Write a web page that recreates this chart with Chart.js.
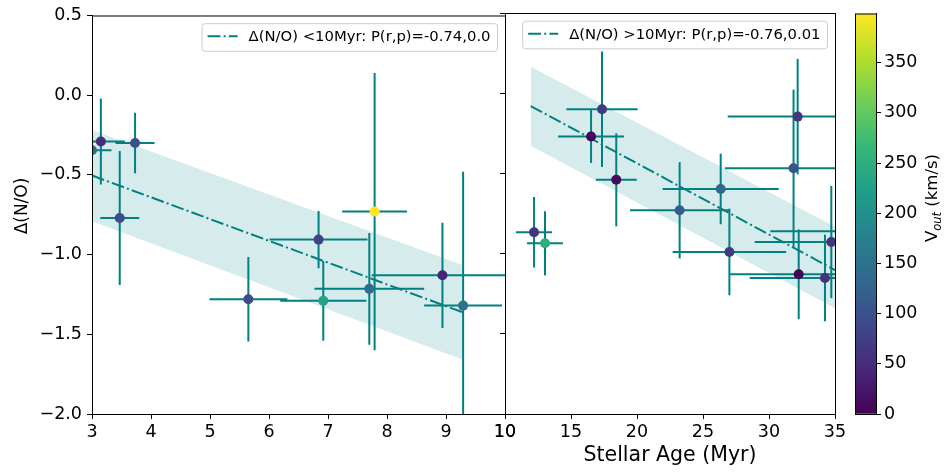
<!DOCTYPE html>
<html>
<head>
<meta charset="utf-8">
<script src="https://cdn.jsdelivr.net/npm/chart.js@4.4.0/dist/chart.umd.min.js"></script>
<style>
    html, body { margin: 0; padding: 0; background: #fff; }
    #wrap { position: relative; width: 947px; height: 472px; overflow: hidden; }
    canvas { position: absolute; top: 0; }
    #young { left: 0; }
    #old { left: 480px; }
    #cbar { left: 840px; }
</style>
</head>
<body>
<div id="wrap">
    <canvas id="young" width="540" height="472"></canvas>
    <canvas id="old" width="380" height="472"></canvas>
    <canvas id="cbar" width="107" height="472"></canvas>
</div>
<script>
// ==========================================
// Data
// ==========================================

// stellar age < 10 Myr
const youngAge    = [3.0, 3.15, 3.73, 3.47, 7.79, 6.84, 5.65, 6.92, 7.70, 8.94, 9.29];
const youngAgeErr = [0.33, 0.41, 0.33, 0.33, 0.55, 0.83, 0.66, 0.73, 0.93, 1.2, 0.66];
const youngDNO    = [-0.345, -0.29, -0.30, -0.77, -0.73, -0.906, -1.28, -1.29, -1.215, -1.13, -1.32];
const youngDNOErr = [0.41, 0.27, 0.19, 0.42, 0.87, 0.18, 0.265, 0.25, 0.35, 0.33, 0.84];
const youngVout   = [145, 50, 100, 95, 399, 80, 90, 230, 140, 40, 148];

// stellar age > 10 Myr
const oldAge    = [17.35, 16.52, 18.43, 26.34, 23.23, 32.17, 31.86, 12.2, 13.03, 27.0, 32.25, 34.24, 34.72, 38.0];
const oldAgeErr = [2.7, 2.5, 1.55, 4.4, 3.76, 5.3, 5.2, 1.37, 1.36, 4.3, 5.2, 5.7, 5.8, 7.9];
const oldDNO    = [-0.10, -0.27, -0.54, -0.597, -0.73, -0.146, -0.468, -0.867, -0.936, -0.99, -1.129, -1.152, -0.928, -0.86];
const oldDNOErr = [0.36, 0.165, 0.29, 0.22, 0.30, 0.36, 0.49, 0.22, 0.20, 0.27, 0.28, 0.27, 0.35, 0.3];
const oldVout   = [70, 5, 8, 135, 115, 65, 105, 62, 250, 65, 3, 58, 62, 100];

// linear fits and their bands
const fitYoungX     = [3.0, 9.29];
const fitYoungY     = [-0.504, -1.363];
const bandYoungUp   = [-0.219, -1.067];
const bandYoungLow  = [-0.79, -1.66];

const fitOldX     = [11.95, 35.5];
const fitOldY     = [-0.08, -1.125];
const bandOldUp   = [0.165, -0.854];
const bandOldLow  = [-0.327, -1.363];

const legendYoung = "Δ(N/O) <10Myr: P(r,p)=-0.74,0.0";
const legendOld   = "Δ(N/O) >10Myr: P(r,p)=-0.76,0.01";

// colour scale
const voutMin = 0;
const voutMax = 399;
const voutTicks = [0, 50, 100, 150, 200, 250, 300, 350];

const viridisStops = ["#440154", "#482878", "#3e4989", "#31688e", "#26828e",
                      "#1f9e89", "#35b779", "#6ece58", "#b5de2b", "#fde725"];

const TEAL = "#008080";
const TICK_SIZE = 17.5;

// ==========================================
// Helpers
// ==========================================

function hexToRgb(h) {
    return [parseInt(h.slice(1, 3), 16), parseInt(h.slice(3, 5), 16), parseInt(h.slice(5, 7), 16)];
}

function viridis(v) {
    let t = (v - voutMin) / (voutMax - voutMin);
    t = Math.max(0, Math.min(1, t));
    const pos = t * (viridisStops.length - 1);
    const i = Math.min(Math.floor(pos), viridisStops.length - 2);
    const f = pos - i;
    const a = hexToRgb(viridisStops[i]);
    const b = hexToRgb(viridisStops[i + 1]);
    const c = a.map((ai, k) => Math.round(ai + (b[k] - ai) * f));
    return `rgb(${c[0]},${c[1]},${c[2]})`;
}

function minusSign(v) {
    return v.toFixed(1).replace("-", "\u2212");
}

function panelDatasets(age, ageErr, dno, dnoErr, vout, fitX, fitY, bandUp, bandLow) {

    const datasets = [];

    datasets.push({
        type: "scatter",
        data: age.map((a, i) => ({ x: a, y: dno[i] })),
        backgroundColor: vout.map(viridis),
        borderWidth: 0,
        pointRadius: 5,
        pointHoverRadius: 5,
        order: 0,
        clip: 0
    });

    const err = {
        type: "line",
        borderColor: TEAL,
        borderWidth: 2,
        pointRadius: 0,
        fill: false,
        order: 1,
        clip: 0
    };

    age.forEach((a, i) => {
        datasets.push({ ...err, data: [{ x: a - ageErr[i], y: dno[i] }, { x: a + ageErr[i], y: dno[i] }] });
        datasets.push({ ...err, data: [{ x: a, y: dno[i] - dnoErr[i] }, { x: a, y: dno[i] + dnoErr[i] }] });
    });

    datasets.push({
        type: "line",
        data: fitX.map((x, i) => ({ x: x, y: fitY[i] })),
        borderColor: TEAL,
        borderWidth: 2,
        borderDash: [12.8, 3.2, 2, 3.2],
        pointRadius: 0,
        fill: false,
        order: 2,
        clip: 0
    });

    datasets.push({
        type: "line",
        data: fitX.map((x, i) => ({ x: x, y: bandUp[i] })),
        borderWidth: 0,
        borderColor: "rgba(0,0,0,0)",
        backgroundColor: "rgba(0,128,128,0.16)",
        pointRadius: 0,
        fill: "+1",
        order: 3,
        clip: 0
    });

    datasets.push({
        type: "line",
        data: fitX.map((x, i) => ({ x: x, y: bandLow[i] })),
        borderWidth: 0,
        borderColor: "rgba(0,0,0,0)",
        pointRadius: 0,
        fill: false,
        order: 3,
        clip: 0
    });

    return datasets;
}

function tickGrid() {
    return {
        display: true,
        drawOnChartArea: false,
        drawTicks: true,
        tickLength: 5,
        color: "#000",
        tickColor: "#000",
        tickWidth: 1
    };
}

// ==========================================
// Plugins
// ==========================================

const frame = {
    id: "frame",
    afterDraw(chart) {
        const { ctx, chartArea: a } = chart;
        ctx.save();
        ctx.strokeStyle = "#000";
        ctx.lineWidth = 1;
        ctx.strokeRect(a.left + 0.5, a.top + 0.5, a.right - a.left, a.bottom - a.top);
        ctx.restore();
    }
};

function legendBox(text) {
    return {
        id: "legendBox",
        afterDraw(chart) {
            const { ctx, chartArea: a } = chart;
            ctx.save();
            ctx.font = "14.8px 'DejaVu Sans'";
            const w = ctx.measureText(text).width;
            const boxW = 6 + 30 + 11 + w + 6.5;
            const boxH = 27.6;
            const right = a.right - 8;
            const top = a.top + 7.7;
            const left = right - boxW;

            ctx.beginPath();
            ctx.roundRect(left + 0.5, top + 0.5, boxW, boxH, 3);
            ctx.fillStyle = "rgba(255,255,255,0.8)";
            ctx.fill();
            ctx.strokeStyle = "#cccccc";
            ctx.lineWidth = 1;
            ctx.stroke();

            ctx.beginPath();
            ctx.setLineDash([12.8, 3.2, 2, 3.2]);
            ctx.strokeStyle = TEAL;
            ctx.lineWidth = 2;
            ctx.moveTo(left + 6, top + 13);
            ctx.lineTo(left + 36, top + 13);
            ctx.stroke();
            ctx.setLineDash([]);

            ctx.fillStyle = "#000";
            ctx.textBaseline = "middle";
            ctx.fillText(text, left + 47, top + 14);
            ctx.restore();
        }
    };
}

// rotated axis label (reads bottom to top), made of parts so a subscript fits in
function sideLabel(cx, cy, parts) {
    return {
        id: "sideLabel",
        afterDraw(chart) {
            const ctx = chart.ctx;
            ctx.save();
            ctx.translate(cx, cy);
            ctx.rotate(-Math.PI / 2);
            ctx.fillStyle = "#000";
            ctx.textBaseline = "alphabetic";

            const widths = parts.map(p => {
                ctx.font = p.css;
                return ctx.measureText(p.text).width;
            });
            let x = -widths.reduce((s, w) => s + w, 0) / 2;
            parts.forEach((p, i) => {
                ctx.font = p.css;
                ctx.fillText(p.text, x, p.shift || 0);
                x += widths[i];
            });
            ctx.restore();
        }
    };
}

// ==========================================
// Charts
// ==========================================

Chart.defaults.font.family = "'DejaVu Sans', sans-serif";
Chart.defaults.font.size = TICK_SIZE;
Chart.defaults.color = "#000";
Chart.defaults.animation = false;

const basePlugins = {
    legend: { display: false },
    tooltip: { enabled: false }
};

// --- left panel: < 10 Myr ---
new Chart(document.getElementById("young"), {
    type: "scatter",
    data: {
        datasets: panelDatasets(youngAge, youngAgeErr, youngDNO, youngDNOErr, youngVout,
                                fitYoungX, fitYoungY, bandYoungUp, bandYoungLow)
    },
    options: {
        responsive: false,
        devicePixelRatio: 1,
        layout: { padding: { top: 13, right: 35, left: 0, bottom: 0 } },
        scales: {
            x: {
                type: "linear",
                min: 3,
                max: 10,
                ticks: { stepSize: 1, includeBounds: false, padding: 3 },
                grid: tickGrid(),
                border: { display: true, color: "#000", width: 1 },
                afterFit: scale => { scale.height = 58; }
            },
            y: {
                type: "linear",
                min: -2,
                max: 0.5,
                ticks: { stepSize: 0.5, includeBounds: false, padding: 5, callback: v => minusSign(v) },
                grid: tickGrid(),
                border: { display: true, color: "#000", width: 1 },
                afterFit: scale => { scale.width = 92; }
            }
        },
        plugins: basePlugins
    },
    plugins: [
        frame,
        legendBox(legendYoung),
        sideLabel(27, 206, [{ text: "Δ(N/O)", css: "17px 'DejaVu Sans'" }])
    ]
});

// --- right panel: > 10 Myr ---
new Chart(document.getElementById("old"), {
    type: "scatter",
    data: {
        datasets: panelDatasets(oldAge, oldAgeErr, oldDNO, oldDNOErr, oldVout,
                                fitOldX, fitOldY, bandOldUp, bandOldLow)
    },
    options: {
        responsive: false,
        devicePixelRatio: 1,
        layout: { padding: { top: 13, right: 25, left: 0, bottom: 0 } },
        scales: {
            x: {
                type: "linear",
                min: 10,
                max: 35,
                ticks: { stepSize: 5, includeBounds: false, padding: 3 },
                grid: tickGrid(),
                border: { display: true, color: "#000", width: 1 },
                title: { display: true, text: "Stellar Age (Myr)", font: { size: 20.5 }, padding: { top: 0, bottom: 4.4 } },
                afterFit: scale => { scale.height = 58; }
            },
            y: {
                type: "linear",
                min: -2,
                max: 0.5,
                ticks: { stepSize: 0.5, includeBounds: false, display: false },
                grid: tickGrid(),
                border: { display: true, color: "#000", width: 1 },
                afterFit: scale => { scale.width = 25; }
            }
        },
        plugins: basePlugins
    },
    plugins: [frame, legendBox(legendOld)]
});

// --- colour bar ---
new Chart(document.getElementById("cbar"), {
    type: "bar",
    data: {
        labels: [""],
        datasets: [{
            data: [[voutMin, voutMax]],
            borderWidth: 0,
            barPercentage: 1,
            categoryPercentage: 1,
            backgroundColor: context => {
                const area = context.chart.chartArea;
                if (!area) return viridisStops[0];
                const g = context.chart.ctx.createLinearGradient(0, area.bottom, 0, area.top);
                viridisStops.forEach((c, i) => g.addColorStop(i / (viridisStops.length - 1), c));
                return g;
            }
        }]
    },
    options: {
        responsive: false,
        devicePixelRatio: 1,
        layout: { padding: { top: 13, right: 0, left: 15, bottom: 58 } },
        scales: {
            x: { display: false },
            y: {
                position: "right",
                min: voutMin,
                max: voutMax,
                afterBuildTicks: scale => { scale.ticks = voutTicks.map(v => ({ value: v })); },
                ticks: { padding: 3 },
                grid: tickGrid(),
                border: { display: true, color: "#000", width: 1 },
                afterFit: scale => { scale.width = 71; }
            }
        },
        plugins: basePlugins
    },
    plugins: [
        frame,
        sideLabel(97, 198, [
            { text: "V", css: "16.5px 'DejaVu Sans'" },
            { text: "out", css: "italic 11.5px 'DejaVu Sans'", shift: 3.6 },
            { text: " (km/s)", css: "16.5px 'DejaVu Sans'" }
        ])
    ]
});
</script>
</body>
</html>
